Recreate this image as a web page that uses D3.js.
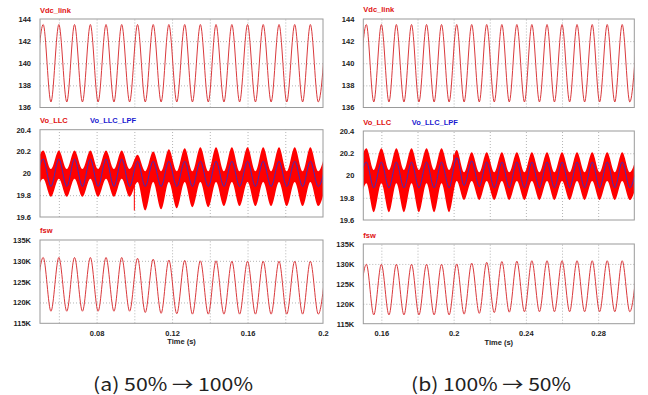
<!DOCTYPE html>
<html>
<head>
<meta charset="utf-8">
<script src="https://cdn.jsdelivr.net/npm/d3@7"></script>
<style>
  body { margin: 0; background: #fff; }
  svg { display: block; }
  .axis text { font: bold 7.5px "Liberation Sans", Arial, sans-serif; fill: #222; }
  .grid line { stroke: #b4b4b4; stroke-dasharray: 1,2; }
  .title { font: bold 7.5px "Liberation Sans", Arial, sans-serif; }
</style>
</head>
<body>
<svg id="chart" width="648" height="395"></svg>
<script>
// ---- ripple extrema times (s): trough k comes just before peak k ----
const troughT_A = [0.0475, 0.0558, 0.0642, 0.0725, 0.0808, 0.0892, 0.0975, 0.1058, 0.1142, 0.1225, 0.1308, 0.1392, 0.1475, 0.1558, 0.1642, 0.1725, 0.1808, 0.1892, 0.1975]
const peakT_A   = [0.0517, 0.0600, 0.0683, 0.0767, 0.0850, 0.0933, 0.1017, 0.1100, 0.1183, 0.1267, 0.1350, 0.1433, 0.1517, 0.1600, 0.1683, 0.1767, 0.1850, 0.1933, 0.2017]
const troughT_B = [0.1475, 0.1558, 0.1642, 0.1725, 0.1808, 0.1892, 0.1975, 0.2058, 0.2142, 0.2225, 0.2308, 0.2392, 0.2475, 0.2558, 0.2642, 0.2725, 0.2808, 0.2892, 0.2975]
const peakT_B   = [0.1517, 0.1600, 0.1683, 0.1767, 0.1850, 0.1933, 0.2017, 0.2100, 0.2183, 0.2267, 0.2350, 0.2433, 0.2517, 0.2600, 0.2683, 0.2767, 0.2850, 0.2933, 0.3017]

// ---- (a) 50% -> 100% ----
const vdcPk_A = [143.5, 143.5, 143.5, 143.5, 143.5, 143.5, 143.5, 143.5, 143.5, 143.5, 143.5, 143.5, 143.5, 143.5, 143.5, 143.5, 143.5, 143.5, 143.5]
const vdcTr_A = [136.5, 136.5, 136.5, 136.5, 136.5, 136.5, 136.5, 136.5, 136.5, 136.5, 136.5, 136.5, 136.5, 136.5, 136.5, 136.5, 136.5, 136.5, 136.5]
const upPk_A  = [20.21, 20.21, 20.21, 20.21, 20.21, 20.21, 20.17, 20.2, 20.22, 20.23, 20.24, 20.24, 20.24, 20.24, 20.24, 20.24, 20.24, 20.24, 20.24]
const upTr_A  = [20.04, 20.04, 20.04, 20.04, 20.04, 20.04, 20.04, 20.02, 20.02, 20.02, 20.02, 20.02, 20.02, 20.02, 20.02, 20.02, 20.02, 20.02, 20.02]
const loPk_A  = [19.95, 19.95, 19.95, 19.95, 19.95, 19.95, 19.92, 19.92, 19.92, 19.92, 19.92, 19.92, 19.92, 19.92, 19.92, 19.92, 19.92, 19.92, 19.92]
const loTr_A  = [19.785, 19.785, 19.785, 19.785, 19.785, 19.785, 19.785, 19.66, 19.67, 19.68, 19.69, 19.69, 19.7, 19.7, 19.7, 19.7, 19.7, 19.7, 19.7]
const lpfPk_A = [20.13, 20.13, 20.13, 20.13, 20.13, 20.13, 20.11, 20.11, 20.11, 20.11, 20.11, 20.11, 20.11, 20.11, 20.11, 20.11, 20.11, 20.11, 20.11]
const lpfTr_A = [19.88, 19.88, 19.88, 19.88, 19.88, 19.88, 19.88, 19.88, 19.88, 19.88, 19.88, 19.88, 19.88, 19.88, 19.88, 19.88, 19.88, 19.88, 19.88]
const fswPk_A = [130.8, 130.8, 130.8, 130.8, 130.8, 130.8, 130.6, 130.4, 130.2, 130.1, 130.0, 130.0, 129.9, 129.9, 129.9, 129.9, 129.9, 129.9, 129.9]
const fswTr_A = [117.9, 117.9, 117.9, 117.9, 117.9, 117.9, 117.9, 117.6, 117.4, 117.3, 117.2, 117.2, 117.2, 117.2, 117.2, 117.2, 117.2, 117.2, 117.2]
const spike_A = [[0.1, 19.95], [0.1, 19.66]]

// ---- (b) 100% -> 50% ----
const vdcPk_B = [143.5, 143.5, 143.5, 143.5, 143.5, 143.5, 143.5, 143.5, 143.5, 143.5, 143.5, 143.5, 143.5, 143.5, 143.5, 143.5, 143.5, 143.5, 143.5]
const vdcTr_B = [136.5, 136.5, 136.5, 136.5, 136.5, 136.5, 136.5, 136.5, 136.5, 136.5, 136.5, 136.5, 136.5, 136.5, 136.5, 136.5, 136.5, 136.5, 136.5]
const upPk_B  = [20.245, 20.245, 20.245, 20.245, 20.245, 20.245, 20.23, 20.21, 20.21, 20.21, 20.21, 20.21, 20.21, 20.21, 20.21, 20.21, 20.21, 20.21, 20.21]
const upTr_B  = [20.05, 20.05, 20.05, 20.05, 20.05, 20.05, 20.05, 20.03, 20.03, 20.03, 20.03, 20.03, 20.03, 20.03, 20.03, 20.03, 20.03, 20.03, 20.03]
const loPk_B  = [19.93, 19.93, 19.93, 19.93, 19.93, 19.93, 19.95, 19.95, 19.95, 19.95, 19.95, 19.95, 19.95, 19.95, 19.95, 19.95, 19.95, 19.95, 19.95]
const loTr_B  = [19.67, 19.67, 19.67, 19.67, 19.67, 19.67, 19.67, 19.78, 19.78, 19.78, 19.78, 19.78, 19.78, 19.78, 19.78, 19.78, 19.78, 19.78, 19.78]
const lpfPk_B = [20.12, 20.12, 20.12, 20.12, 20.12, 20.12, 20.16, 20.13, 20.12, 20.12, 20.12, 20.12, 20.12, 20.12, 20.12, 20.12, 20.12, 20.12, 20.12]
const lpfTr_B = [19.89, 19.89, 19.89, 19.89, 19.89, 19.89, 19.89, 19.91, 19.9, 19.89, 19.89, 19.89, 19.89, 19.89, 19.89, 19.89, 19.89, 19.89, 19.89]
const fswPk_B = [129.9, 129.9, 129.9, 129.9, 129.9, 129.9, 130.0, 130.2, 130.4, 130.6, 130.7, 130.8, 130.8, 130.8, 130.8, 130.8, 130.8, 130.8, 130.8]
const fswTr_B = [117.2, 117.2, 117.2, 117.2, 117.2, 117.2, 117.2, 117.4, 117.6, 117.8, 117.9, 118.0, 118.0, 118.0, 118.0, 118.0, 118.0, 118.0, 118.0]
const spike_B = [[0.2, 20.05], [0.2, 20.19]]

// ---- axes ----
const xDomain_A = [0.05, 0.2], xTicks_A = [0.08, 0.12, 0.16, 0.2], xGrid_A = [0.06, 0.08, 0.1, 0.12, 0.14, 0.16, 0.18]
const xDomain_B = [0.15, 0.3], xTicks_B = [0.16, 0.2, 0.24, 0.28], xGrid_B = [0.16, 0.18, 0.2, 0.22, 0.24, 0.26, 0.28]
const vdcTicks = [136, 138, 140, 142, 144]
const voTicks = [19.6, 19.8, 20, 20.2, 20.4]
const fswTicks = [115, 120, 125, 130, 135]   // kHz
const captions = ['(a)  50% → 100%', '(b)  100% → 50%']

const svg = d3.select('#chart')
const lineRed = '#d9393c', bandRed = '#ff0000', lpfBlue = '#3a2fc4'

function zip(trT, pkT, ...pairs) {
  // pairs: [trVals, pkVals] per value column
  const pts = []
  trT.forEach((t, i) => {
    pts.push([t, ...pairs.map(p => p[0][i])])
    pts.push([pkT[i], ...pairs.map(p => p[1][i])])
  })
  return pts
}

let clipN = 0
function panel(x, y0, y1, domain, ticks, fmt, xGrid) {
  const y = d3.scaleLinear().domain(domain).range([y1, y0])
  const [xa, xb] = x.range()
  const g = svg.append('g')
  const id = 'clip' + (clipN++)
  svg.append('clipPath').attr('id', id)
    .append('rect').attr('x', xa).attr('y', y0).attr('width', xb - xa).attr('height', y1 - y0)

  g.append('g').attr('class', 'grid').attr('transform', `translate(${xa},0)`)
    .call(d3.axisLeft(y).tickValues(ticks.slice(1, -1)).tickSize(-(xb - xa)).tickFormat(''))
    .call(s => s.select('.domain').remove())
  g.append('g').attr('class', 'grid').attr('transform', `translate(0,${y1})`)
    .call(d3.axisBottom(x).tickValues(xGrid).tickSize(-(y1 - y0)).tickFormat(''))
    .call(s => s.select('.domain').remove())

  g.append('g').attr('class', 'axis').attr('transform', `translate(${xa},0)`)
    .call(d3.axisLeft(y).tickValues(ticks).tickSize(0).tickPadding(9).tickFormat(fmt))
    .call(s => s.select('.domain').remove())

  const plot = g.append('g').attr('clip-path', `url(#${id})`)
  g.append('rect').attr('x', xa).attr('y', y0).attr('width', xb - xa).attr('height', y1 - y0)
    .attr('fill', 'none').attr('stroke', '#9a9a9a').attr('stroke-width', 1)
  return { g, plot, y }
}

function wave(p, x, pts, color, w) {
  p.plot.append('path').datum(pts)
    .attr('fill', 'none').attr('stroke', color).attr('stroke-width', w)
    .attr('d', d3.line().x(d => x(d[0])).y(d => p.y(d[1])).curve(d3.curveMonotoneX))
}

function title(x, yb, items) {
  items.forEach(it => svg.append('text').attr('class', 'title')
    .attr('x', x + it.dx).attr('y', yb).attr('fill', it.color).text(it.text))
}

function column(cfg) {
  const x = d3.scaleLinear().domain(cfg.xDomain).range(cfg.xRange)
  const xa = cfg.xRange[0]

  // Vdc_link
  const p1 = panel(x, cfg.rows[0][0], cfg.rows[0][1], [136, 144], vdcTicks, d3.format('d'), cfg.xGrid)
  wave(p1, x, zip(cfg.tr, cfg.pk, [cfg.vdcTr, cfg.vdcPk]), lineRed, 1)
  title(xa, cfg.titleY[0], [{ dx: 0, text: 'Vdc_link', color: '#e01010' }])

  // Vo_LLC / Vo_LLC_LPF
  const p2 = panel(x, cfg.rows[1][0], cfg.rows[1][1], [19.6, 20.4], voTicks, d => d3.format('.1f')(d).replace('.0', ''), cfg.xGrid)
  const band = zip(cfg.tr, cfg.pk, [cfg.upTr, cfg.upPk], [cfg.loTr, cfg.loPk])
  p2.plot.append('path').datum(band).attr('fill', bandRed)
    .attr('d', d3.area().x(d => x(d[0])).y1(d => p2.y(d[1])).y0(d => p2.y(d[2])).curve(d3.curveMonotoneX))
  p2.plot.append('path').datum(cfg.spike).attr('fill', 'none').attr('stroke', bandRed).attr('stroke-width', 1)
    .attr('d', d3.line().x(d => x(d[0])).y(d => p2.y(d[1])))
  wave(p2, x, zip(cfg.tr, cfg.pk, [cfg.lpfTr, cfg.lpfPk]), lpfBlue, 1)
  title(xa, cfg.titleY[1], [{ dx: 0, text: 'Vo_LLC', color: '#e01010' }, { dx: cfg.lpfDx, text: 'Vo_LLC_LPF', color: '#1a1ad0' }])

  // fsw
  const p3 = panel(x, cfg.rows[2][0], cfg.rows[2][1], [115, 135], fswTicks, d => d + 'K', cfg.xGrid)
  wave(p3, x, zip(cfg.tr, cfg.pk, [cfg.fswTr, cfg.fswPk]), lineRed, 1)
  title(xa, cfg.titleY[2], [{ dx: 0, text: 'fsw', color: '#e01010' }])

  p3.g.append('g').attr('class', 'axis').attr('transform', `translate(0,${cfg.rows[2][1]})`)
    .call(d3.axisBottom(x).tickValues(cfg.xTicks).tickSize(0).tickPadding(7).tickFormat(d => String(+d.toFixed(2))))
    .call(s => s.select('.domain').remove())
  svg.append('text').attr('class', 'title').attr('fill', '#222').attr('text-anchor', 'middle')
    .attr('x', (cfg.xRange[0] + cfg.xRange[1]) / 2).attr('y', cfg.rows[2][1] + 21).text('Time (s)')

  svg.append('text').attr('x', cfg.capX).attr('y', 391)
    .attr('font-family', '"Noto Sans CJK KR", "Noto Sans", sans-serif').attr('font-size', 18).attr('fill', '#222')
    .attr('textLength', 160).attr('lengthAdjust', 'spacingAndGlyphs')
    .text(cfg.caption)
}

column({
  xDomain: xDomain_A, xRange: [40, 323], xTicks: xTicks_A, xGrid: xGrid_A,
  rows: [[19, 107.5], [129.7, 217], [240, 323.3]], titleY: [13, 122.5, 233], lpfDx: 50,
  tr: troughT_A, pk: peakT_A,
  vdcTr: vdcTr_A, vdcPk: vdcPk_A, upTr: upTr_A, upPk: upPk_A, loTr: loTr_A, loPk: loPk_A,
  lpfTr: lpfTr_A, lpfPk: lpfPk_A, fswTr: fswTr_A, fswPk: fswPk_A, spike: spike_A,
  caption: captions[0], capX: 93
})
column({
  xDomain: xDomain_B, xRange: [363.3, 634.3], xTicks: xTicks_B, xGrid: xGrid_B,
  rows: [[19, 107.5], [131, 220], [244, 323.7]], titleY: [12, 125, 237.5], lpfDx: 48.5,
  tr: troughT_B, pk: peakT_B,
  vdcTr: vdcTr_B, vdcPk: vdcPk_B, upTr: upTr_B, upPk: upPk_B, loTr: loTr_B, loPk: loPk_B,
  lpfTr: lpfTr_B, lpfPk: lpfPk_B, fswTr: fswTr_B, fswPk: fswPk_B, spike: spike_B,
  caption: captions[1], capX: 411
})
</script>
</body>
</html>
